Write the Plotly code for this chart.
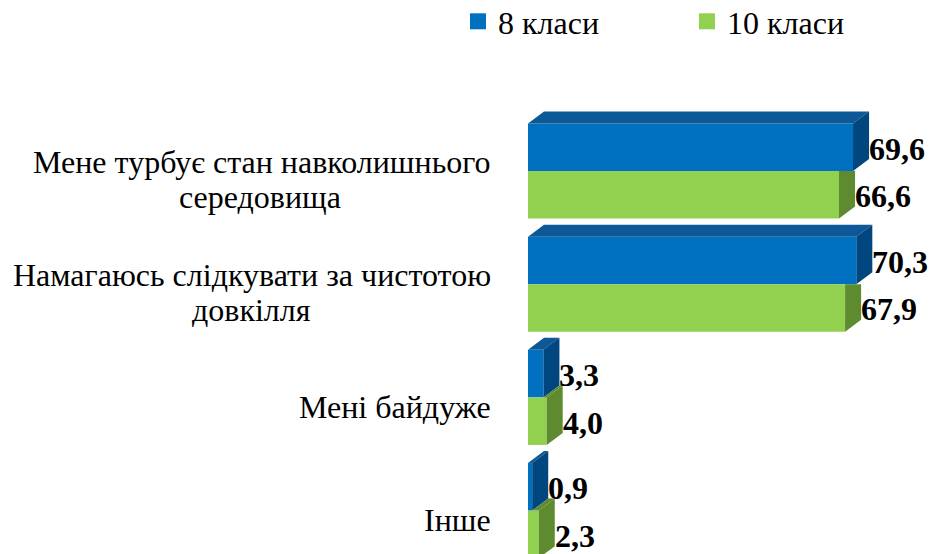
import plotly.graph_objects as go

categories = [
    "Мене турбує стан навколишнього<br>середовища",
    "Намагаюсь слідкувати за чистотою<br>довкілля",
    "Мені байдуже",
    "Інше",
]
series_names = ["8 класи", "10 класи"]
grade8 = [69.6, 70.3, 3.3, 0.9]
grade10 = [66.6, 67.9, 4.0, 2.3]

FONT = "Liberation Serif"
FS = 32
BLUE, BLUE_DARK, BLUE_TOP = "#0070C0", "#00467F", "#0D5896"
GREEN, GREEN_DARK = "#92D050", "#5E8A30"

W = 0.42          # bar thickness (category units)
DX = 3.43         # 3D depth along x (value units)
DY = -0.106       # 3D depth along y (category units, up)

ML = 528
PLOT_W = 932 - ML
PX_PER_UNIT = 4.67
LABEL_RIGHT = -35            # px from plot left edge to label right edge
LINE2_CENTER = [260, 251]    # px centre of wrapped second lines

pos = list(range(len(categories)))

fig = go.Figure()
fig.add_trace(go.Bar(y=pos, x=grade8, orientation="h", offset=-W, width=W,
                     marker=dict(color=BLUE, line=dict(width=0)),
                     name=series_names[0], showlegend=False, hoverinfo="skip"))
fig.add_trace(go.Bar(y=pos, x=grade10, orientation="h", offset=0, width=W,
                     marker=dict(color=GREEN, line=dict(width=0)),
                     name=series_names[1], showlegend=False, hoverinfo="skip"))


def poly(xs, ys, color):
    fig.add_trace(go.Scatter(x=xs + [xs[0]], y=ys + [ys[0]], mode="lines",
                             fill="toself", fillcolor=color,
                             line=dict(width=0, color=color),
                             showlegend=False, hoverinfo="skip"))


for i, (b, g) in enumerate(zip(grade8, grade10)):
    poly([0, DX, b + DX, b], [i - W, i - W + DY, i - W + DY, i - W], BLUE_TOP)
    poly([b, b + DX, b + DX, b], [i - W, i - W + DY, i + DY, i], BLUE_DARK)
    if g > b:
        poly([b, g, g + DX, b + DX], [i, i, i + DY, i + DY], GREEN_DARK)
        poly([g, g + DX, g + DX, g], [i, i + DY, i + W + DY, i + W], GREEN_DARK)
    else:
        poly([g, g + DX, g + DX, g], [i, i, i + W + DY, i + W], GREEN_DARK)

# legend entries (square swatches like the original)
for name, color, leg in ((series_names[0], BLUE, "legend"), (series_names[1], GREEN, "legend2")):
    fig.add_trace(go.Scatter(x=[None], y=[None], mode="markers", name=name, legend=leg,
                             marker=dict(symbol="square", size=16, color=color,
                                         line=dict(width=0)),
                             hoverinfo="skip"))

tfont = dict(family=FONT, size=FS, color="#000000")
annotations = []
for i, cat in enumerate(categories):
    lines = cat.split("<br>")
    if len(lines) == 1:
        annotations.append(dict(x=0, xref="paper", y=i, yref="y", text=lines[0],
                                xanchor="right", yanchor="middle",
                                xshift=LABEL_RIGHT, yshift=-9.5, showarrow=False, font=tfont))
    else:
        annotations.append(dict(x=0, xref="paper", y=i, yref="y", text=lines[0],
                                xanchor="right", yanchor="middle",
                                xshift=LABEL_RIGHT, yshift=9.5, showarrow=False, font=tfont))
        annotations.append(dict(x=0, xref="paper", y=i, yref="y", text=lines[1],
                                xanchor="center", yanchor="middle",
                                xshift=LINE2_CENTER[i] - ML, yshift=-26, showarrow=False,
                                font=tfont))
for i, (b, g) in enumerate(zip(grade8, grade10)):
    for v, yc in ((b, i - W / 2), (g, i + W / 2)):
        annotations.append(dict(x=v + DX, y=yc, xref="x", yref="y",
                                text="<b>" + f"{v:.1f}".replace(".", ",") + "</b>",
                                xanchor="left", yanchor="middle", xshift=-2, yshift=-1.5,
                                showarrow=False, font=tfont))

leg_common = dict(orientation="h", xref="paper", yref="paper",
                  xanchor="left", yanchor="top", font=tfont, itemsizing="trace",
                  bgcolor="rgba(0,0,0,0)", borderwidth=0)

cat_px = 113.2
c0 = 171
fig.update_layout(
    width=932, height=554,
    margin=dict(l=ML, r=0, t=0, b=0, autoexpand=False),
    paper_bgcolor="white", plot_bgcolor="white",
    barmode="overlay",
    showlegend=True,
    legend=dict(x=(458 - ML) / PLOT_W, y=1 + 6 / 554, **leg_common),
    legend2=dict(x=(687 - ML) / PLOT_W, y=1 + 6 / 554, **leg_common),
    xaxis=dict(range=[0, PLOT_W / PX_PER_UNIT], visible=False, fixedrange=True),
    yaxis=dict(range=[(554 - c0) / cat_px, -c0 / cat_px], visible=False, fixedrange=True),
    annotations=annotations,
)

fig.write_html("out.html", config={"displayModeBar": False},
               post_script="document.body.style.margin='0px';")
